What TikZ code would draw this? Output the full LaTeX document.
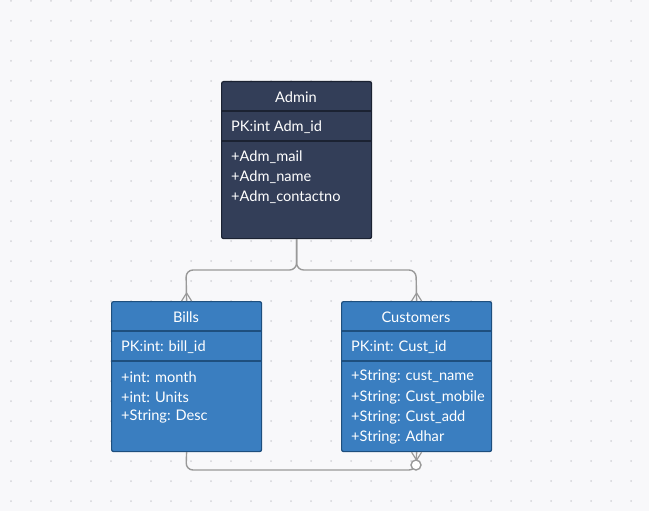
\documentclass[tikz,border=0pt]{standalone}
\usepackage{fontspec}
\setmainfont{Lato}
\usetikzlibrary{calc}
\begin{document}
\begin{tikzpicture}[x=1pt,y=-1pt,
  conn/.style={draw=black!40,line width=1.4pt,rounded corners=7pt},
  foot/.style={draw=black!40,line width=1.2pt},
  ttl/.style={text=white,font=\fontsize{14.6}{16}\selectfont,anchor=center},
  fld/.style={text=white,font=\fontsize{14.6}{16}\selectfont,anchor=west,inner sep=0pt},
]
\definecolor{bg}{HTML}{F8F8FA}
\definecolor{dotc}{HTML}{D4D4D8}
\definecolor{adm}{HTML}{333E58}
\definecolor{admb}{HTML}{1B2232}
\definecolor{blu}{HTML}{3A7EC0}
\definecolor{blub}{HTML}{1E4F7E}
\useasboundingbox (0,0) rectangle (649,511);
\fill[bg] (0,0) rectangle (649,511);
\foreach \i in {0,...,32}{\foreach \j in {0,...,25}{
  \fill[dotc] (11+20*\i,1+20*\j) circle (1pt);}}
% Admin
\node[draw=admb,fill=adm,line width=1.2pt,rounded corners=2pt,minimum width=150pt,minimum height=157pt,inner sep=0pt,anchor=north west] (admin) at (221,81) {};
\draw[admb,line width=1.2pt] (221,111) -- (371,111) (221,141) -- (371,141);
\node[ttl] (admint) at (296,97) {Admin};
\node[fld] (adminpk) at (231,127) {PK:int Adm\_id};
\node[fld] (a1) at (231,157) {+Adm\_mail};
\node[fld] (a2) at (231,177) {+Adm\_name};
\node[fld] (a3) at (231,197) {+Adm\_contactno};
% Bills
\node[draw=blub,fill=blu,line width=1.2pt,rounded corners=2pt,minimum width=150pt,minimum height=150pt,inner sep=0pt,anchor=north west] (bills) at (111,301) {};
\draw[blub,line width=1.2pt] (111,331) -- (261,331) (111,361) -- (261,361);
\node[ttl] (billst) at (186,317) {Bills};
\node[fld] (billspk) at (121,347) {PK:int: bill\_id};
\node[fld] (b1) at (121,377) {+int: month};
\node[fld] (b2) at (121,397) {+int: Units};
\node[fld] (b3) at (121,417) {+String: Desc};
% Customers
\node[draw=blub,fill=blu,line width=1.2pt,rounded corners=2pt,minimum width=150pt,minimum height=150pt,inner sep=0pt,anchor=north west] (cust) at (341,301) {};
\draw[blub,line width=1.2pt] (341,331) -- (491,331) (341,361) -- (491,361);
\node[ttl] (custt) at (416,317) {Customers};
\node[fld] (custpk) at (351,347) {PK:int: Cust\_id};
\node[fld] (c1) at (351,377) {+String: cust\_name};
\node[fld] (c2) at (351,397) {+String: Cust\_mobile};
\node[fld] (c3) at (351,417) {+String: Cust\_add};
\node[fld] (c4) at (351,437) {+String: Adhar};
% connectors
\coordinate (ab) at (admin.south);
\coordinate (bt) at (bills.north);
\coordinate (ct) at (cust.north);
\coordinate (bb) at (bills.south);
\coordinate (cb) at (cust.south);
\draw[conn] (ab) |- (186,270) -- (bt);
\draw[conn] (ab) |- (416,270) -- (ct);
\draw[foot] ($(bt)+(0,-8)$) -- ($(bt)+(-5,0)$) ($(bt)+(0,-8)$) -- ($(bt)+(5,0)$);
\draw[foot] ($(ct)+(0,-8)$) -- ($(ct)+(-5,0)$) ($(ct)+(0,-8)$) -- ($(ct)+(5,0)$);
\draw[conn] (bb) -- (186,470) -- (416,470) -- (cb);
\draw[foot] ($(cb)+(0,8)$) -- ($(cb)+(-5,0)$) ($(cb)+(0,8)$) -- ($(cb)+(5,0)$);
\node[circle,draw=black!40,fill=white,line width=1.4pt,minimum size=10pt,inner sep=0pt] (circ) at (416,465) {};
\end{tikzpicture}
\end{document}
